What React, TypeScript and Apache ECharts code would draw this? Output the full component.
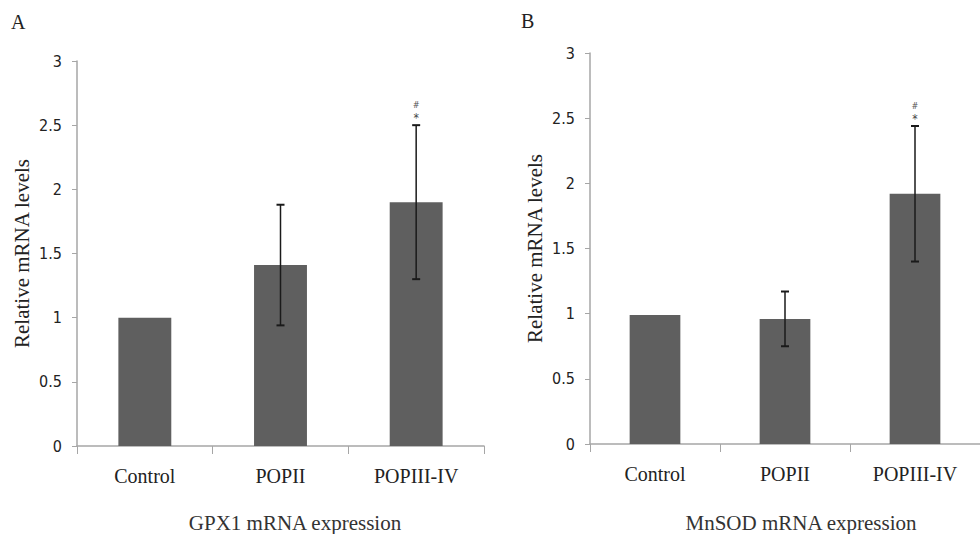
import React, { useEffect, useRef } from "react";
import * as echarts from "echarts";

const categories = ["Control", "POPII", "POPIII-IV"];
const yTicks = [0, 0.5, 1, 1.5, 2, 2.5, 3];

const gpx1Means = [1.0, 1.41, 1.9];
const gpx1Errors = [0, 0.47, 0.6];
const gpx1Marks = ["", "", "*#"];

const mnsodMeans = [0.99, 0.96, 1.92];
const mnsodErrors = [0, 0.21, 0.52];
const mnsodMarks = ["", "", "*#"];

const panelLabels = ["A", "B"];
const panelTitles = ["GPX1 mRNA expression", "MnSOD mRNA expression"];
const yAxisName = "Relative mRNA levels";

const SERIF = "'Liberation Serif', 'Times New Roman', serif";
const NARROW = "'Liberation Sans Narrow', 'DejaVu Sans Condensed', sans-serif";
const BAR = "#5f5f5f";
const AXIS = "#a6a6a6";

function errorRender(params: any, api: any) {
  const idx = api.value(0);
  const mean = api.value(1);
  const err = api.value(2);
  const marks = String(api.value(3) || "");
  const children: any[] = [];
  const lineStyle = { stroke: "#1a1a1a", lineWidth: 1.5 };
  let topY = api.coord([idx, mean])[1];
  const x = api.coord([idx, mean])[0];
  if (err > 0) {
    const top = api.coord([idx, mean + err]);
    const bot = api.coord([idx, mean - err]);
    topY = top[1];
    children.push({ type: "line", shape: { x1: x, y1: top[1], x2: x, y2: bot[1] }, style: lineStyle });
    children.push({ type: "line", shape: { x1: x - 4, y1: top[1], x2: x + 4, y2: top[1] }, style: { stroke: "#1a1a1a", lineWidth: 2 } });
    children.push({ type: "line", shape: { x1: x - 4, y1: bot[1], x2: x + 4, y2: bot[1] }, style: { stroke: "#1a1a1a", lineWidth: 2 } });
  }
  if (marks.indexOf("*") >= 0) {
    children.push({
      type: "text",
      style: { text: "*", x, y: topY - 7, align: "center", verticalAlign: "middle", fontSize: 12, fill: "#444", fontFamily: NARROW },
    });
  }
  if (marks.indexOf("#") >= 0) {
    children.push({
      type: "text",
      style: { text: "#", x, y: topY - 20, align: "center", verticalAlign: "middle", fontSize: 9, fill: "#555", fontFamily: NARROW },
    });
  }
  return { type: "group", children };
}

export default function App() {
  const ref = useRef<HTMLDivElement>(null);
  useEffect(() => {
    if (!ref.current) return;
    const chart = echarts.init(ref.current, undefined, { renderer: "svg" });
    const grids = [
      { left: 77, top: 61, width: 407, height: 385 },
      { left: 590, top: 53, width: 402, height: 391 },
    ];
    const xAxis = grids.map((_, i) => ({
      type: "category",
      gridIndex: i,
      data: categories,
      boundaryGap: true,
      axisLine: { lineStyle: { color: AXIS, width: 1.5 } },
      axisTick: { show: true, length: 8, lineStyle: { color: AXIS, width: 1 }, alignWithLabel: false },
      axisLabel: { color: "#222", fontFamily: SERIF, fontSize: 20, margin: 20 },
      splitLine: { show: false },
    }));
    const yAxis = grids.map((_, i) => ({
      type: "value",
      gridIndex: i,
      min: 0,
      max: 3,
      interval: 0.5,
      name: yAxisName,
      nameLocation: "middle",
      nameGap: 45,
      nameTextStyle: { color: "#222", fontFamily: SERIF, fontSize: 21 },
      axisLine: { show: true, lineStyle: { color: AXIS, width: 1.5 } },
      axisTick: { show: true, length: 5, lineStyle: { color: AXIS } },
      axisLabel: {
        color: "#222",
        fontFamily: NARROW,
        fontSize: 16,
        margin: 15,
        formatter: (v: number) => (yTicks.indexOf(v) >= 0 ? String(v) : ""),
      },
      splitLine: { show: false },
    }));
    const means = [gpx1Means, mnsodMeans];
    const errs = [gpx1Errors, mnsodErrors];
    const marks = [gpx1Marks, mnsodMarks];
    const series: any[] = [];
    for (let i = 0; i < 2; i++) {
      series.push({
        type: "bar",
        xAxisIndex: i,
        yAxisIndex: i,
        data: means[i],
        barWidth: "39%",
        itemStyle: { color: BAR },
      });
      series.push({
        type: "custom",
        xAxisIndex: i,
        yAxisIndex: i,
        renderItem: errorRender,
        data: means[i].map((m, k) => [k, m, errs[i][k], marks[i][k]]),
        z: 10,
      });
    }
    chart.setOption({
      animation: false,
      backgroundColor: "#ffffff",
      grid: grids,
      xAxis,
      yAxis,
      series,
      graphic: [
        { type: "text", left: 11, top: 12, style: { text: panelLabels[0], font: `20px ${SERIF}`, fill: "#222" } },
        { type: "text", left: 521, top: 11, style: { text: panelLabels[1], font: `20px ${SERIF}`, fill: "#222" } },
        { type: "text", x: 295, y: 523, style: { text: panelTitles[0], align: "center", verticalAlign: "middle", font: `21px ${SERIF}`, fill: "#333" } },
        { type: "text", x: 801, y: 523, style: { text: panelTitles[1], align: "center", verticalAlign: "middle", font: `21px ${SERIF}`, fill: "#333" } },
      ],
    });
    return () => chart.dispose();
  }, []);
  return <div ref={ref} style={{ position: "fixed", left: 0, top: 0, width: 980, height: 534 }} />;
}
